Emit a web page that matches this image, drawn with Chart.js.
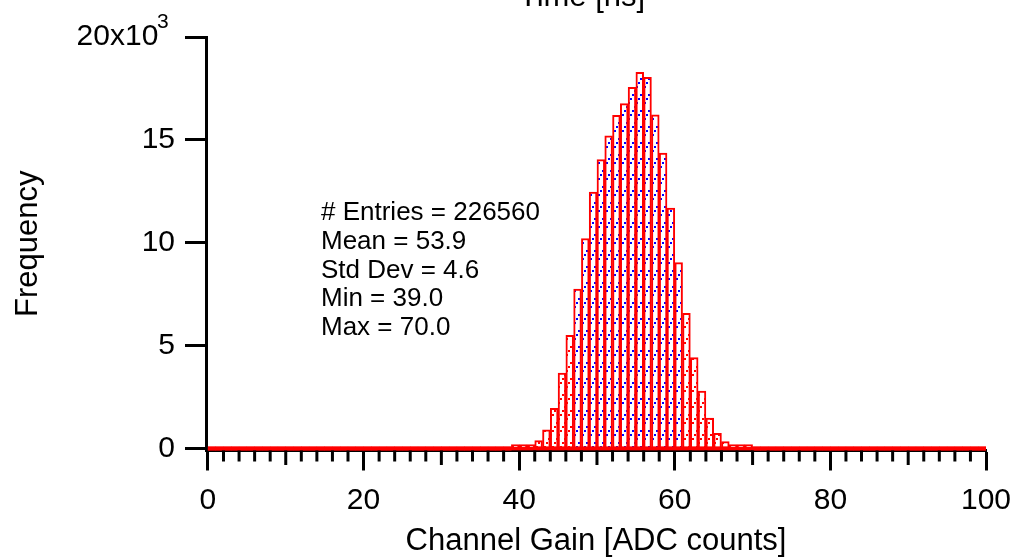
<!DOCTYPE html>
<html lang="en">
<head>
<meta charset="UTF-8">
<title>Channel Gain histogram</title>
<script src="https://cdn.jsdelivr.net/npm/chart.js@4.4.1/dist/chart.umd.min.js"></script>
<style>
    html, body { margin: 0; padding: 0; background: #fff; overflow: hidden; }
    #wrap { position: relative; width: 1014px; height: 560px; }
</style>
</head>
<body>
<div id="wrap"><canvas id="histo" width="1014" height="560"></canvas></div>
<script>
    // bins of width 1, lower edges 0..99
    const binLow = Array.from({ length: 100 }, (_, i) => i);
    const freq = [
        0, 0, 0, 0, 0, 0, 0, 0, 0, 0,
        0, 0, 0, 0, 0, 0, 0, 0, 0, 0,
        0, 0, 0, 0, 0, 0, 0, 0, 0, 0,
        0, 0, 0, 0, 0, 0, 0, 0, 0, 20,
        50, 150, 390, 910, 1960, 3670, 5500, 7750, 10210, 12460,
        14040, 15200, 16190, 16760, 17550, 18280, 18040, 16220, 14360, 11690,
        9040, 6580, 4420, 2800, 1480, 750, 340, 180, 80, 30,
        0, 0, 0, 0, 0, 0, 0, 0, 0, 0,
        0, 0, 0, 0, 0, 0, 0, 0, 0, 0,
        0, 0, 0, 0, 0, 0, 0, 0, 0, 0
    ];
    const histRange = [0, 100];
    const xTicks = [0, 20, 40, 60, 80, 100];
    const xMinor = Array.from({ length: 51 }, (_, i) => i * 2).filter(v => v % 20 !== 0);
    const yTicks = [0, 5000, 10000, 15000, 20000];
    const yTickLabels = ['0', '5', '10', '15', '20x10  '];
    const yExponent = '3';
    const statsLines = ['# Entries = 226560', 'Mean = 53.9', 'Std Dev = 4.6', 'Min = 39.0', 'Max = 70.0'];
    const topTitle = 'Time [ns]';
    // bins between the cursors get the blue hatch
    const cursorA = 47, cursorB = 60;

    const FONT = '"Liberation Sans", Arial, sans-serif';

    function hatch(cor) {
        const c = document.createElement('canvas');
        c.width = 8; c.height = 16;
        const g = c.getContext('2d');
        g.fillStyle = '#fff';
        g.fillRect(0, 0, 8, 16);
        g.fillStyle = cor;
        for (let k = 0; k < 4; k++) g.fillRect(k * 2, 14 - k * 4, 2, 2);
        return g.createPattern(c, 'repeat');
    }
    const blue = hatch('#0000ff');
    const red = hatch('#ff0000');

    const extras = {
        id: 'extras',
        afterDraw(chart) {
            const { ctx, chartArea, scales: { x, y } } = chart;
            ctx.save();
            ctx.strokeStyle = '#000';
            ctx.lineWidth = 3;
            xMinor.forEach(v => {
                const px = x.getPixelForValue(v);
                const len = v % 10 === 0 ? 14.5 : 11;
                ctx.beginPath();
                ctx.moveTo(px, chartArea.bottom);
                ctx.lineTo(px, chartArea.bottom + len);
                ctx.stroke();
            });
            ctx.fillStyle = '#000';
            ctx.textBaseline = 'alphabetic';
            ctx.textAlign = 'left';
            // exponent of the top y label
            ctx.font = '21px ' + FONT;
            ctx.fillText(yExponent, 157, y.getPixelForValue(yTicks[yTicks.length - 1]) - 9);
            ctx.font = '26px ' + FONT;
            statsLines.forEach((t, i) => ctx.fillText(t, 321, 220 + i * 28.75));
            ctx.textAlign = 'center';
            ctx.font = '31px ' + FONT;
            ctx.fillText(topTitle, 582, 6);
            ctx.restore();
        }
    };

    new Chart(document.getElementById('histo'), {
        type: 'bar',
        data: {
            datasets: [{
                data: binLow.map((b, i) => ({ x: b + 0.5, y: freq[i] })),
                backgroundColor: binLow.map(b => (b >= cursorA && b <= cursorB) ? blue : red),
                borderColor: '#ff0000',
                borderWidth: 2,
                borderSkipped: false,
                minBarLength: 4,
                barPercentage: 1,
                categoryPercentage: 1,
                order: 1
            }, {
                // outline of the empty bins along the baseline
                type: 'line',
                data: histRange.map(v => ({ x: v, y: 0 })),
                borderColor: '#ff0000',
                borderWidth: 4,
                pointRadius: 0,
                order: 0
            }]
        },
        options: {
            responsive: false,
            animation: false,
            layout: { padding: { top: 37, right: 28, left: 0, bottom: 0 } },
            plugins: { legend: { display: false }, tooltip: { enabled: false } },
            scales: {
                x: {
                    type: 'linear',
                    min: -0.25,
                    max: 100,
                    offset: false,
                    afterFit: s => { s.height = 109.5; s.paddingLeft = 0; s.paddingRight = 0; },
                    afterBuildTicks: s => { s.ticks = xTicks.map(v => ({ value: v })); },
                    grid: { offset: false, drawOnChartArea: false, drawTicks: true, tickLength: 20, tickWidth: 3, tickColor: '#000' },
                    border: { display: true, color: '#000', width: 3 },
                    ticks: { autoSkip: false, maxRotation: 0, padding: 12, color: '#000', font: { family: FONT, size: 30 } },
                    title: { display: true, text: 'Channel Gain [ADC counts]', color: '#000', font: { family: FONT, size: 31 }, padding: { top: 0, bottom: 0 } }
                },
                y: {
                    min: -90,
                    max: 20000,
                    afterFit: s => { s.width = 206; s.paddingTop = 0; s.paddingBottom = 0; },
                    afterBuildTicks: s => { s.ticks = yTicks.map(v => ({ value: v })); },
                    grid: { drawOnChartArea: false, drawTicks: true, tickLength: 21, tickWidth: 3, tickColor: '#000' },
                    border: { display: true, color: '#000', width: 3 },
                    ticks: {
                        padding: 10, color: '#000', font: { family: FONT, size: 30 },
                        callback: (v) => yTickLabels[yTicks.indexOf(v)]
                    },
                    title: { display: true, text: 'Frequency', color: '#000', font: { family: FONT, size: 31 }, padding: { top: 10, bottom: 0 } }
                }
            }
        },
        plugins: [extras]
    });
</script>
</body>
</html>
